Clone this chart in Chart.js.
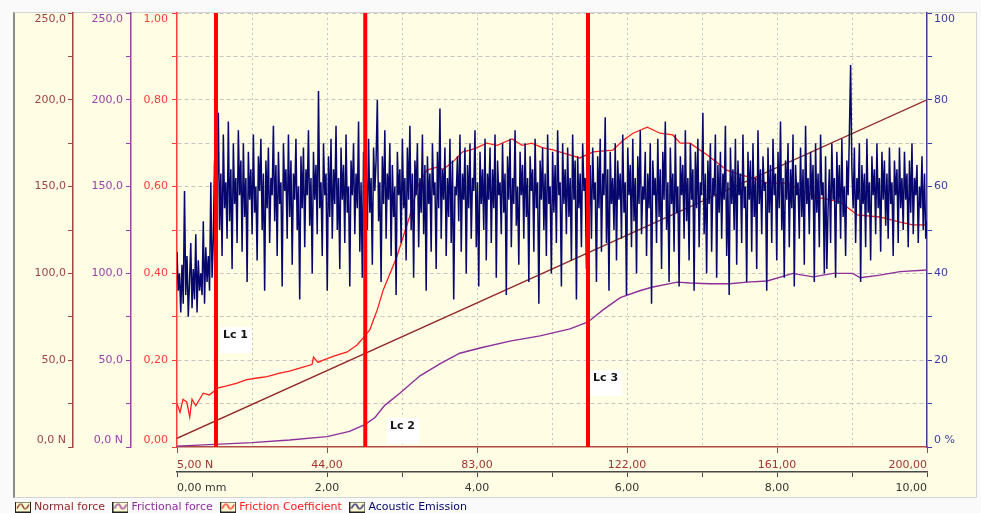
<!DOCTYPE html>
<html><head><meta charset="utf-8">
<script src="https://cdn.jsdelivr.net/npm/chart.js@4.4.1/dist/chart.umd.min.js"></script>
<style>
html,body{margin:0;padding:0;background:#fafafa;width:981px;height:513px;overflow:hidden}
#frame{position:absolute;left:13px;top:12px;width:961px;height:484px;background:#fffde3;border-left:2px solid #8c8c8c;border-top:1px solid #d4d4d4;border-right:1px solid #d4d4d4;border-bottom:1px solid #d4d4d4}
#wrap{position:absolute;left:0;top:0;width:981px;height:513px}
</style></head><body>
<div id="frame"></div>
<div id="wrap"><canvas id="c" width="981" height="513"></canvas></div>
<script>
// ---------------- data ----------------
const seriesNames = ['Normal force', 'Frictional force', 'Friction Coefficient', 'Acoustic Emission'];

// Normal force (N) vs distance (mm)
const nfDistance = [0, 10];
const nfValues = [5, 200];

// Frictional force (N)
const ffDistance = [0, 0.5, 1, 1.5, 2, 2.3, 2.51, 2.64, 2.77, 2.97, 3.24, 3.51, 3.77, 4.04, 4.44, 4.84, 5.24, 5.48, 5.68, 5.91, 6.17, 6.33, 6.67, 6.84, 7.1, 7.37, 7.6, 7.87, 8.21, 8.48, 8.75, 9.01, 9.11, 9.37, 9.64, 10];
const ffValues   = [0.5, 1.5, 2.5, 4, 6, 9, 13, 17, 24, 31, 41, 48, 54, 57, 61, 64, 68, 72, 79, 86, 90, 92, 95, 94.5, 94, 94, 95, 95.6, 100, 98, 100, 100, 97.5, 99, 101, 102];

// Friction coefficient
const fcDistance = [0, 0.04, 0.08, 0.13, 0.17, 0.2, 0.25, 0.35, 0.43, 0.55, 0.65, 0.8, 0.93, 1.07, 1.2, 1.37, 1.5, 1.68, 1.8, 1.82, 1.88, 1.95, 2.1, 2.27, 2.4, 2.48, 2.57, 2.67, 2.75, 2.93, 3.1, 3.21, 3.33, 3.47, 3.55, 3.68, 3.81, 3.91, 4.0, 4.13, 4.27, 4.4, 4.47, 4.6, 4.73, 4.87, 5.0, 5.2, 5.37, 5.55, 5.81, 5.95, 6.08, 6.27, 6.44, 6.61, 6.71, 6.84, 7.07, 7.33, 7.51, 7.68, 7.87, 8.13, 8.31, 8.57, 8.84, 9.07, 9.37, 9.64, 9.81, 10];
const fcValues   = [0.10, 0.08, 0.11, 0.104, 0.069, 0.11, 0.095, 0.124, 0.12, 0.136, 0.14, 0.147, 0.155, 0.159, 0.162, 0.17, 0.175, 0.184, 0.19, 0.207, 0.195, 0.2, 0.21, 0.219, 0.235, 0.251, 0.27, 0.316, 0.362, 0.438, 0.53, 0.6, 0.638, 0.645, 0.64, 0.657, 0.68, 0.684, 0.69, 0.70, 0.695, 0.705, 0.71, 0.695, 0.70, 0.69, 0.685, 0.675, 0.666, 0.68, 0.684, 0.707, 0.723, 0.737, 0.723, 0.719, 0.70, 0.70, 0.673, 0.638, 0.627, 0.62, 0.608, 0.608, 0.592, 0.574, 0.565, 0.535, 0.53, 0.518, 0.512, 0.512];

// Acoustic emission (%), evenly sampled over 0..10 mm
const aeValues = [
  45,36,40,31,42,33,59,35,44,30,38,47,32,41,34,49,31,43,36,40,35,52,33,46,38,
  44,36,61,39,48,66,42,58,77,50,63,44,72,55,61,48,75,52,64,41,70,56,62,47,73,
  58,66,45,70,53,62,38,68,57,64,49,72,54,60,43,67,59,71,50,63,36,66,55,69,47,
  62,58,74,52,65,44,68,56,61,37,70,59,64,48,72,53,66,42,63,57,71,50,60,34,67,
  55,69,46,64,58,73,51,62,40,68,57,65,49,82,55,61,44,70,58,63,36,67,53,71,48,
  64,56,74,50,62,41,69,57,65,47,72,54,60,37,66,58,70,49,63,55,75,45,61,39,68,
  57,64,50,71,54,62,42,69,59,66,80,52,61,38,67,56,73,48,63,57,70,44,65,53,60,
  35,68,58,64,47,71,55,62,43,69,57,74,50,63,39,66,58,70,46,62,54,72,49,65,36,
  67,56,63,45,70,58,61,41,68,55,78,48,64,57,69,44,62,53,71,47,66,34,60,58,67,
  52,72,45,63,57,69,40,65,55,70,48,62,59,73,46,61,37,68,56,64,50,71,43,63,57,
  69,47,64,55,72,39,66,58,61,49,70,54,63,35,67,57,71,46,62,56,73,51,60,42,68,
  58,65,48,70,53,62,38,67,59,64,45,71,55,61,33,66,57,69,50,63,44,72,56,60,40,
  68,54,65,47,73,58,61,37,70,56,64,49,69,53,62,43,72,57,66,34,67,55,63,46,70,
  59,62,41,74,52,65,48,69,57,61,38,67,55,71,45,63,58,76,47,64,36,68,56,62,50,
  70,43,66,57,63,48,72,54,61,35,69,58,65,46,71,52,62,40,67,56,73,49,60,57,68,
  44,63,55,70,33,66,58,62,47,71,53,64,41,68,57,75,50,61,38,69,56,63,45,72,54,
  60,37,67,58,65,48,73,52,62,43,70,57,64,36,68,55,71,46,61,58,77,49,63,40,66,
  56,70,45,62,58,72,39,65,54,68,48,63,57,74,44,61,35,69,56,64,50,71,42,66,58,
  63,47,72,55,60,38,68,57,66,45,70,53,62,41,73,56,64,49,67,59,61,36,69,54,65,
  47,71,58,63,43,68,55,75,50,62,39,66,57,70,46,64,55,72,37,65,58,61,48,69,53,
  64,42,74,56,62,49,68,57,65,38,70,54,63,46,72,58,61,40,67,41,55,64,47,70,57,
  62,39,68,56,65,48,71,53,60,44,66,58,72,88,64,55,69,47,62,57,70,38,65,56,63,
  46,71,54,61,43,67,58,64,49,70,55,62,45,68,57,66,51,63,48,69,56,61,44,66,58,
  64,47,69,55,62,50,68,57,63,46,66,54,70,49,62,58,65,47,60,55,67,50,63,48,52
];
const aeStartMm = 0, aeEndMm = 10;

// Critical loads
const lcNames = ['Lc 1', 'Lc 2', 'Lc 3'];
const lcDistance = [0.52, 2.51, 5.48];

// Tick values
const forceLeftTicks = [0, 25, 50, 75, 100, 125, 150, 175, 200, 225, 250];
const fcTicks = [0, 0.1, 0.2, 0.3, 0.4, 0.5, 0.6, 0.7, 0.8, 0.9, 1.0];
const aeTicks = [0, 10, 20, 30, 40, 50, 60, 70, 80, 90, 100];
const loadAxisTicks = [5, 44, 83, 122, 161, 200];
const mmTicks = [0, 1, 2, 3, 4, 5, 6, 7, 8, 9, 10];

// ---------------- placement / style ----------------
const lcLabelPlace = [ {x: 0.573, y: 0.276}, {x: 2.80, y: 0.067}, {x: 5.507, y: 0.177} ];
const COL = {
  nf: '#922a2a', nfAxis: '#a04444',
  ff: '#8d2f9c', ffAxis: '#9c40aa',
  fc: '#ff1e1e', fcAxis: '#ff3a3a',
  ae: '#06066e', aeAxis: '#3d3da4',
  mm: '#4a4a4a', grid: '#c6c6be'
};
const legendColors = [COL.nf, COL.ff, COL.fc, COL.ae];
const FONT = '"DejaVu Sans", Verdana, sans-serif';
Chart.defaults.font.family = FONT;
Chart.defaults.font.size = 11;

const fmt = (v, d) => v.toFixed(d).replace('.', ',');
const setTicks = arr => scale => { scale.ticks = arr.map(v => ({value: v})); };
const pairs = (xs, ys) => xs.map((x, i) => ({x, y: ys[i]}));
// top label sits below its tick, bottom label above it (inner alignment)
const inner = (text, v, lo, hi) => v === hi ? ['', text] : (v === lo ? [text, ''] : text);
const fitV = w => s => { s.width = w; s.paddingTop = 0; s.paddingBottom = 0; };

function makeIcon(color) {
  const c = document.createElement('canvas');
  c.width = 16; c.height = 11;
  const g = c.getContext('2d');
  g.fillStyle = '#fffbd0'; g.fillRect(0, 0, 16, 11);
  g.strokeStyle = '#222'; g.lineWidth = 1; g.strokeRect(0.5, 0.5, 15, 10);
  g.strokeStyle = color; g.lineWidth = 1.4;
  g.beginPath(); g.moveTo(2, 7); g.bezierCurveTo(5, 1, 7, 2, 8, 5); g.bezierCurveTo(9, 8, 11, 9, 14, 3); g.stroke();
  return c;
}
const icons = legendColors.map(makeIcon);

const lcLabelPlugin = {
  id: 'lcLabels',
  afterDatasetsDraw(chart) {
    const {ctx, scales} = chart;
    ctx.save();
    ctx.font = 'bold 11px ' + FONT;
    ctx.textBaseline = 'middle';
    lcNames.forEach((name, i) => {
      const px = scales.x.getPixelForValue(lcLabelPlace[i].x);
      const py = scales.yFC.getPixelForValue(lcLabelPlace[i].y);
      ctx.fillStyle = '#ffffff';
      ctx.fillRect(px, py, 32, 26);
      ctx.fillStyle = '#141414';
      ctx.fillText(name, px + 3, py + 8);
    });
    ctx.restore();
  }
};

const lcDatasets = lcDistance.map((d, i) => ({
  label: lcNames[i],
  data: [{x: d, y: 0}, {x: d, y: 1}],
  xAxisID: 'x', yAxisID: 'yFC',
  borderColor: '#ff0000', borderWidth: 4, pointRadius: 0, order: 1, clip: false
}));

const leftForceAxis = (color, weight, width, pad) => ({
  type: 'linear', position: 'left', weight, min: 0, max: 250,
  afterBuildTicks: setTicks(forceLeftTicks),
  afterFit: fitV(width),
  grid: {drawOnChartArea: false, color, tickColor: color, tickLength: 5},
  border: {color, width: 1.5},
  ticks: {color, padding: pad,
          callback: v => v % 50 === 0 ? inner(fmt(v, 1) + (v === 0 ? ' N' : ''), v, 0, 250) : ''}
});

new Chart(document.getElementById('c'), {
  type: 'line',
  data: {
    datasets: [
      {label: seriesNames[0], data: pairs(nfDistance, nfValues), xAxisID: 'x', yAxisID: 'yNF',
       borderColor: COL.nf, borderWidth: 1.4, pointRadius: 0, order: 5},
      {label: seriesNames[1], data: pairs(ffDistance, ffValues), xAxisID: 'x', yAxisID: 'yFF',
       borderColor: COL.ff, borderWidth: 1.4, pointRadius: 0, order: 4},
      {label: seriesNames[2], data: pairs(fcDistance, fcValues), xAxisID: 'x', yAxisID: 'yFC',
       borderColor: COL.fc, borderWidth: 1.3, pointRadius: 0, order: 3},
      {label: seriesNames[3],
       data: aeValues.map((v, i) => ({x: aeStartMm + i * (aeEndMm - aeStartMm) / (aeValues.length - 1), y: v})),
       xAxisID: 'x', yAxisID: 'yAE', borderColor: COL.ae, borderWidth: 1.5, pointRadius: 0, order: 2},
      ...lcDatasets
    ]
  },
  options: {
    responsive: false, animation: false, devicePixelRatio: 1,
    layout: {padding: {left: 7.5, right: 6, top: 13, bottom: 0}},
    plugins: {
      tooltip: {enabled: false},
      legend: {
        position: 'bottom', align: 'start', maxHeight: 21.5,
        labels: {
          usePointStyle: true, pointStyleWidth: 11, padding: 10, font: {size: 11},
          generateLabels: () => seriesNames.map((name, i) => ({
            text: name, fontColor: legendColors[i], pointStyle: icons[i],
            datasetIndex: i, hidden: false, lineWidth: 0,
            strokeStyle: 'transparent', fillStyle: 'transparent'
          }))
        }
      }
    },
    scales: {
      yNF: leftForceAxis(COL.nfAxis, 3, 65.5, 2),
      yFF: leftForceAxis(COL.ffAxis, 2, 58, 3),
      yFC: {
        type: 'linear', position: 'left', weight: 1, min: 0, max: 1,
        afterBuildTicks: setTicks(fcTicks),
        afterFit: fitV(46),
        grid: {drawOnChartArea: true, tickLength: 5, tickColor: COL.fcAxis,
               color: c => (c.tick && c.tick.value === 0) ? 'rgba(0,0,0,0)' : COL.grid, lineWidth: 1},
        border: {color: COL.fcAxis, width: 1.5, dash: [4, 3]},
        ticks: {color: COL.fcAxis, padding: 4,
                callback: v => Math.round(v * 10) % 2 === 0 ? inner(fmt(v, 2), v, 0, 1) : ''}
      },
      yAE: {
        type: 'linear', position: 'right', min: 0, max: 100,
        afterBuildTicks: setTicks(aeTicks),
        afterFit: fitV(48),
        grid: {drawOnChartArea: false, color: COL.aeAxis, tickColor: COL.aeAxis, tickLength: 5},
        border: {color: COL.aeAxis, width: 1.5},
        ticks: {color: COL.aeAxis, padding: 2,
                callback: v => v % 20 === 0 ? inner(v === 0 ? '0 %' : String(v), v, 0, 100) : ''}
      },
      xF: {
        type: 'linear', position: 'bottom', weight: 1, min: 5, max: 200,
        afterBuildTicks: setTicks(loadAxisTicks),
        afterFit: s => { s.height = 25; },
        grid: {drawOnChartArea: false, color: COL.nfAxis, tickColor: COL.nfAxis, tickLength: 6},
        border: {color: '#b04a44', width: 1.5},
        ticks: {color: '#a03434', padding: 5.4, align: 'inner', autoSkip: false, maxRotation: 0,
                callback: v => fmt(v, 2) + (v === 5 ? ' N' : '')}
      },
      x: {
        type: 'linear', position: 'bottom', weight: 2, min: 0, max: 10,
        afterBuildTicks: setTicks(mmTicks),
        afterFit: s => { s.height = 19.5; },
        grid: {drawOnChartArea: true, tickLength: 5, tickColor: COL.mm,
               color: c => (c.tick && (c.tick.value === 0 || c.tick.value === 10)) ? 'rgba(0,0,0,0)' : COL.grid},
        border: {color: COL.mm, width: 1.5, dash: [2, 3]},
        ticks: {color: '#333333', padding: 4.4, align: 'inner', autoSkip: false, maxRotation: 0,
                callback: v => v % 2 === 0 ? fmt(v, 2) + (v === 0 ? ' mm' : '') : ''}
      }
    }
  },
  plugins: [lcLabelPlugin]
});
</script>
</body></html>
